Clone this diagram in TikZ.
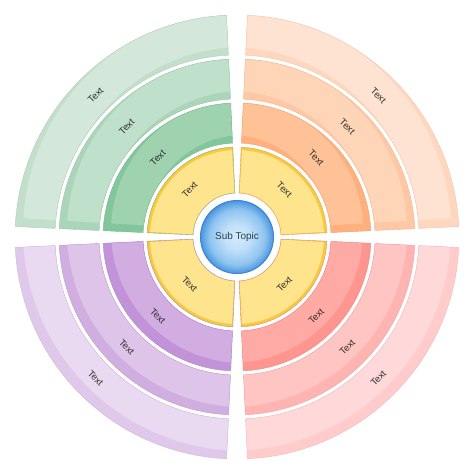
\documentclass[tikz,border=0pt]{standalone}
\usepackage{fontspec}
\setmainfont{Liberation Sans}

\definecolor{green1d}{HTML}{C3DECB}\definecolor{green1l}{HTML}{D3E8DA}
\definecolor{green2d}{HTML}{ABD5B9}\definecolor{green2l}{HTML}{BFE0CA}
\definecolor{green3d}{HTML}{84C69C}\definecolor{green3l}{HTML}{9FD3B0}
\definecolor{orange1d}{HTML}{FFD7BF}\definecolor{orange1l}{HTML}{FFE3D2}
\definecolor{orange2d}{HTML}{FFC7A3}\definecolor{orange2l}{HTML}{FFD5B8}
\definecolor{orange3d}{HTML}{FFB07D}\definecolor{orange3l}{HTML}{FFC297}
\definecolor{purple1d}{HTML}{E0C8EA}\definecolor{purple1l}{HTML}{EADAF1}
\definecolor{purple2d}{HTML}{D1AEE0}\definecolor{purple2l}{HTML}{DEC4E9}
\definecolor{purple3d}{HTML}{C293D8}\definecolor{purple3l}{HTML}{D2ADE2}
\definecolor{red1d}{HTML}{FFCBCB}\definecolor{red1l}{HTML}{FFD9D9}
\definecolor{red2d}{HTML}{FFB4B2}\definecolor{red2l}{HTML}{FFC5C3}
\definecolor{red3d}{HTML}{FF958F}\definecolor{red3l}{HTML}{FFAAA5}
\definecolor{yellowd}{HTML}{F8C93A}\definecolor{yellowl}{HTML}{FFE48E}
\definecolor{bluein}{HTML}{D6EBFC}\definecolor{bluemid}{HTML}{8EC4F0}
\definecolor{blueout}{HTML}{4A96E0}\definecolor{blueline}{HTML}{3A84D4}
\definecolor{textgray}{HTML}{2E2E2E}\definecolor{subtext}{HTML}{2A3E55}

\pgfdeclareradialshading{subball}{\pgfpoint{0bp}{0bp}}{color(0bp)=(bluein); color(9bp)=(bluein!70!bluemid); color(19bp)=(bluemid); color(25bp)=(blueout); color(50bp)=(blueout)}

\begin{document}
\begin{tikzpicture}[x=1bp,y=1bp,
ringseg/.style n args={4}{insert path={(#1:#4) arc[start angle=#1,end angle=#2,radius=#4] -- (#2:#3) arc[start angle=#2,end angle=#1,radius=#3] -- cycle}},
lbl/.style={font=\fontsize{9.5}{11}\selectfont,text=textgray,inner sep=0pt},
subtopic/.style={circle,minimum size=73bp,inner sep=0pt,shading=subball,draw=blueline,line width=1pt,font=\fontsize{10}{12}\selectfont,text=subtext}]
\useasboundingbox (-237,-237) rectangle (237,237);

% quadrants: colour / start angle / shift of the light part / text rotation
\foreach \q/\a/\sx/\tr in {green/90/1/45, orange/0/-1/-45, purple/180/1/-45, red/270/-1/45}{
  % three outer rings
  \foreach \k/\ri/\ro/\rt in {1/182/222/200, 2/138/178/156, 3/94/134/112}{
    \fill[\q\k d, ringseg={\a+2.7}{\a+87.3}{\ri bp}{\ro bp}];
    \begin{scope}
      \clip[ringseg={\a+2.7}{\a+87.3}{\ri bp}{\ro bp}];
      \fill[\q\k l, shift={(\sx*6bp,6bp)}, ringseg={\a+3.3}{\a+86.7}{\ri bp+2bp}{\ro bp-2bp}];
    \end{scope}
    \draw[\q\k d!92!black, line width=0.4pt, ringseg={\a+2.7}{\a+87.3}{\ri bp}{\ro bp}];
    \node[lbl, rotate=\tr] (t-\q-\k) at (\a+45:\rt bp) {Text};
  }
  % yellow inner ring
  \fill[yellowd, ringseg={\a+2.7}{\a+87.3}{44bp}{90bp}];
  \fill[yellowl, ringseg={\a+3.4}{\a+86.6}{44.5bp}{87bp}];
  \draw[\q3d!90!black, line width=0.4pt, ringseg={\a+2.7}{\a+87.3}{44bp}{90bp}];
  \node[lbl, rotate=\tr] (t-\q-4) at (\a+45:67bp) {Text};
}

% centre
\fill[white] (0,0) circle (43bp);
\node[subtopic] (sub) at (0,0) {Sub Topic};

\end{tikzpicture}
\end{document}
